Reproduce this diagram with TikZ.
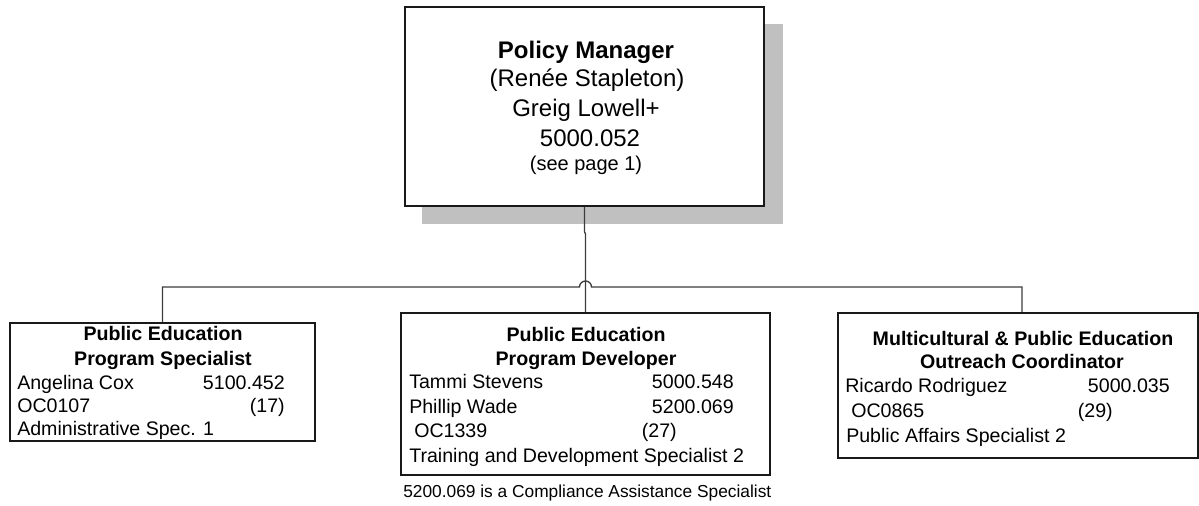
\documentclass[tikz,border=0pt]{standalone}
\usepackage{fontspec}
\setmainfont{Liberation Sans}
\usetikzlibrary{calc}
\definecolor{shadowgray}{RGB}{192,192,192}
\definecolor{linegray}{RGB}{60,60,60}
\definecolor{boxline}{RGB}{25,25,25}
\tikzset{
  box/.style={draw=boxline, line width=1.5pt, fill=white, inner sep=0pt, rectangle},
  conn/.style={draw=linegray, line width=1pt},
  big/.style={inner sep=0pt, anchor=base, font=\fontsize{18}{21}\selectfont},
  bigsmall/.style={inner sep=0pt, anchor=base, font=\fontsize{15}{18}\selectfont},
  ttl/.style={inner sep=0pt, anchor=base, font=\fontsize{14.7}{17}\selectfont\bfseries},
  lft/.style={inner sep=0pt, anchor=base west, font=\fontsize{14.7}{17}\selectfont},
  rgt/.style={inner sep=0pt, anchor=base east, font=\fontsize{14.7}{17}\selectfont},
  note/.style={inner sep=0pt, anchor=base west, font=\fontsize{13}{15}\selectfont}
}
\begin{document}
\begin{tikzpicture}[x=0.75pt, y=-0.75pt]
\useasboundingbox (0,0) rectangle (1199,506);
% shadow of top box
\fill[shadowgray] (422,24) rectangle (783,224);
% boxes
\node[box, minimum width=359*0.75pt, minimum height=199*0.75pt] (mgr) at (584.5,106.5) {};
\node[box, minimum width=305*0.75pt, minimum height=118*0.75pt] (left) at (162.5,382) {};
\node[box, minimum width=369*0.75pt, minimum height=162*0.75pt] (mid) at (585.5,394) {};
\node[box, minimum width=360*0.75pt, minimum height=145*0.75pt] (right) at (1018,385.5) {};
% connectors
\coordinate (j1) at (584.5,232);
\coordinate (j2) at (585.5,234);
\draw[conn] (mgr.south) -- (j1) -- (j2) -- (mid.north);
\coordinate (hopL) at (579.5,287);
\coordinate (rdrop) at (1022,287);
\draw[conn] (left.north) |- (hopL) arc[start angle=180, end angle=0, radius=4.5pt] -- (rdrop) -- (rdrop |- right.north);
% top box text
\node[big, font=\fontsize{18}{21}\selectfont\bfseries] (t1) at (586,59) {Policy Manager};
\node[big] (t2) at (587,87) {(Renée Stapleton)};
\node[big] (t3) at (586,117) {Greig Lowell+};
\node[big] (t4) at (590,147) {5000.052};
\node[bigsmall] (t5) at (586,171) {(see page 1)};
% left box text
\node[ttl] (l1) at (163,340) {Public Education};
\node[ttl] (l2) at (163,365) {Program Specialist};
\node[lft] (l3) at (17,389) {Angelina Cox};
\node[rgt] (l4) at (285,389) {5100.452};
\node[lft] (l5) at (17,412) {OC0107};
\node[rgt] (l6) at (285,412) {(17)};
\node[lft] (l7) at (17,435) {Administrative Spec. 1};
% middle box text
\node[ttl] (m1) at (586,341) {Public Education};
\node[ttl] (m2) at (586,365) {Program Developer};
\node[lft] (m3) at (409,388) {Tammi Stevens};
\node[rgt] (m4) at (734,388) {5000.548};
\node[lft] (m5) at (409,413) {Phillip Wade};
\node[rgt] (m6) at (734,413) {5200.069};
\node[lft] (m7) at (414,437) {OC1339};
\node[rgt] (m8) at (677,437) {(27)};
\node[lft] (m9) at (409,462) {Training and Development Specialist 2};
\node[note] (fn) at (403,497) {5200.069 is a Compliance Assistance Specialist};
% right box text
\node[ttl] (r1) at (1023,345) {Multicultural \& Public Education};
\node[ttl] (r2) at (1022,368) {Outreach Coordinator};
\node[lft] (r3) at (845,392) {Ricardo Rodriguez};
\node[rgt] (r4) at (1170,392) {5000.035};
\node[lft] (r5) at (851,417) {OC0865};
\node[rgt] (r6) at (1113,417) {(29)};
\node[lft] (r7) at (846,442) {Public Affairs Specialist 2};
\end{tikzpicture}
\end{document}
